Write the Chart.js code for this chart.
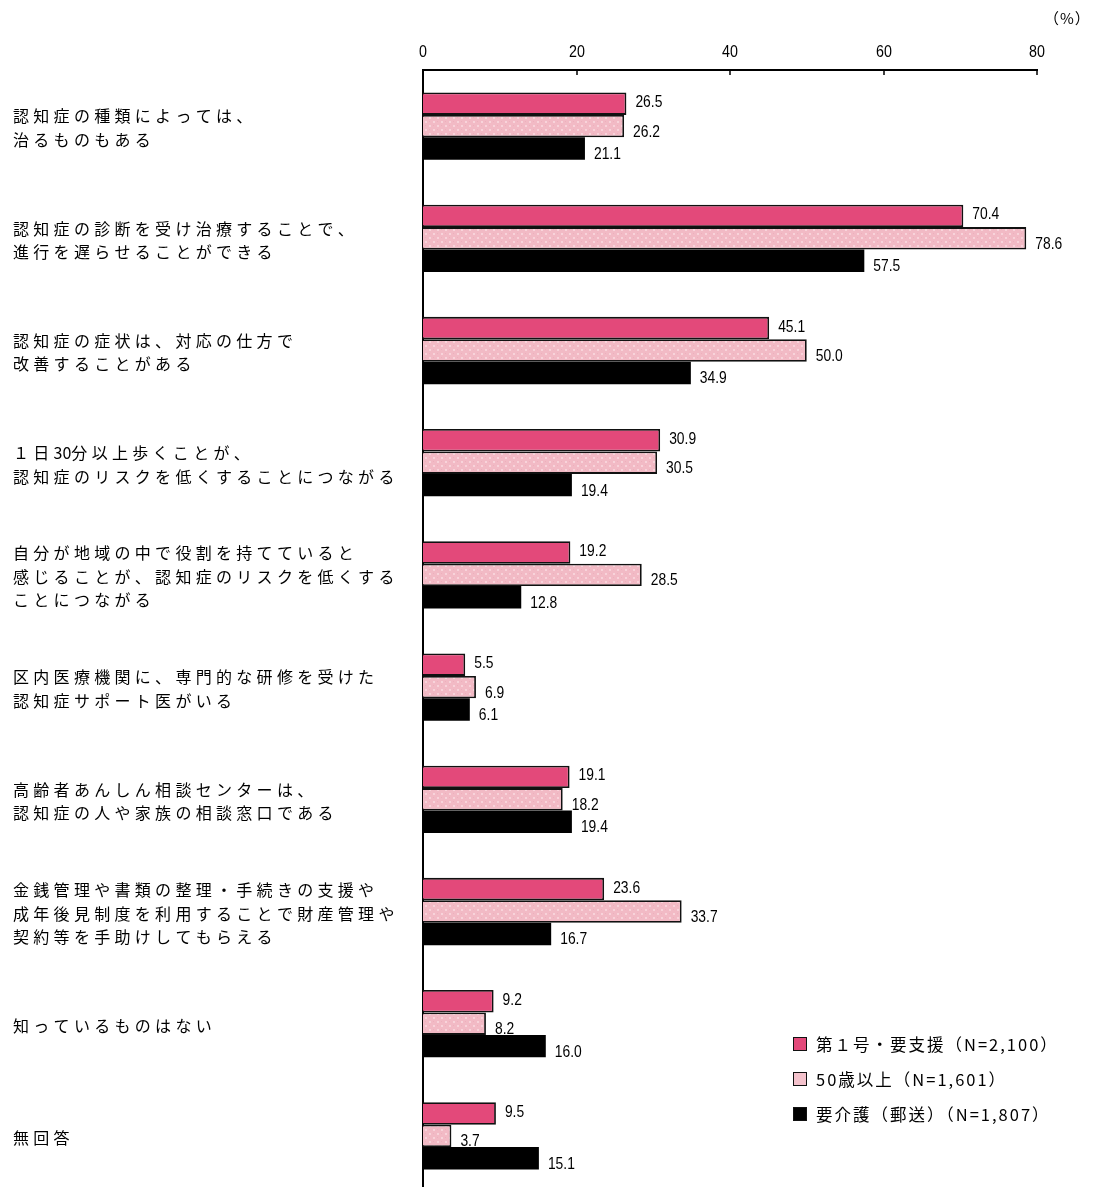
<!DOCTYPE html>
<html lang="ja">
<head>
<meta charset="utf-8">
<script src="https://cdn.jsdelivr.net/npm/chart.js@4/dist/chart.umd.min.js"></script>
<style>
  html, body { margin: 0; padding: 0; background: #fff; overflow: hidden; }
  .wrap { position: relative; width: 1093px; height: 1194px; }
  canvas { display: block; }
  .unit { position: absolute; left: 1044px; top: 7px; font: 15px "Noto Sans CJK JP", sans-serif; color: #000; letter-spacing: 1px; }
  .legend { position: absolute; left: 793px; top: 1026px; font: 16.5px "Noto Sans CJK JP", sans-serif; color: #000; letter-spacing: 2px; }
  .legend div { height: 35px; display: flex; align-items: center; }
  .legend span.box { width: 14px; height: 14px; border: 1.5px solid #111; margin-right: 9px; box-sizing: border-box; }
</style>
</head>
<body>
<div class="wrap">
  <canvas id="chart" width="1093" height="1194"></canvas>
  <div class="unit">（%）</div>
  <div class="legend" id="legend"></div>
</div>
<script>
const categories = [
  ["認知症の種類によっては、", "治るものもある"],
  ["認知症の診断を受け治療することで、", "進行を遅らせることができる"],
  ["認知症の症状は、対応の仕方で", "改善することがある"],
  ["１日30分以上歩くことが、", "認知症のリスクを低くすることにつながる"],
  ["自分が地域の中で役割を持てていると", "感じることが、認知症のリスクを低くする", "ことにつながる"],
  ["区内医療機関に、専門的な研修を受けた", "認知症サポート医がいる"],
  ["高齢者あんしん相談センターは、", "認知症の人や家族の相談窓口である"],
  ["金銭管理や書類の整理・手続きの支援や", "成年後見制度を利用することで財産管理や", "契約等を手助けしてもらえる"],
  ["知っているものはない"],
  ["無回答"]
];

const seriesNames = [
  "第１号・要支援（N=2,100）",
  "50歳以上（N=1,601）",
  "要介護（郵送）（N=1,807）"
];

const support = [26.5, 70.4, 45.1, 30.9, 19.2, 5.5, 19.1, 23.6, 9.2, 9.5];
const over50 = [26.2, 78.6, 50.0, 30.5, 28.5, 6.9, 18.2, 33.7, 8.2, 3.7];
const care = [21.1, 57.5, 34.9, 19.4, 12.8, 6.1, 19.4, 16.7, 16.0, 15.1];

const xTicks = [0, 20, 40, 60, 80];

const pink = "#E3497A";
const black = "#000000";
const numFont = '"Liberation Sans", Arial, sans-serif';
const jpFont = '"Noto Sans CJK JP", sans-serif';

function makePattern() {
  const c = document.createElement("canvas");
  c.width = 8;
  c.height = 8;
  const g = c.getContext("2d");
  g.fillStyle = "#F2BAC5";
  g.fillRect(0, 0, 8, 8);
  g.fillStyle = "#F8D3DA";
  g.fillRect(1, 1, 2, 2);
  g.fillRect(5, 5, 2, 2);
  g.fillStyle = "#EDB0BC";
  g.fillRect(5, 1, 1, 1);
  g.fillRect(1, 5, 1, 1);
  return g.createPattern(c, "repeat");
}

const lightPink = makePattern();

// narrow numbers, like the original's condensed sans
function narrowText(ctx, text, x, y, align) {
  ctx.save();
  ctx.translate(x, y);
  ctx.scale(0.84, 1);
  ctx.textAlign = align;
  ctx.fillText(text, 0, 0);
  ctx.restore();
}

// CJK glyphs get wide tracking, ascii stays tight
function spacedText(ctx, text, x, y) {
  let cx = x;
  for (const ch of text) {
    ctx.fillText(ch, cx, y);
    const w = ctx.measureText(ch).width;
    cx += ch.charCodeAt(0) < 128 ? w : w + 4.3;
  }
}

const labelPlugin = {
  id: "labels",
  afterDraw(chart) {
    const ctx = chart.ctx;
    const y = chart.scales.y;
    const x = chart.scales.x;
    const top = chart.chartArea.top;
    ctx.save();

    // tick marks (pointing down) and tick labels of the top axis
    ctx.strokeStyle = "#000";
    ctx.fillStyle = "#000";
    ctx.lineWidth = 1.5;
    ctx.font = "17px " + numFont;
    ctx.textBaseline = "middle";
    xTicks.forEach((v) => {
      const px = Math.round(x.getPixelForValue(v));
      if (v !== 0) {
        ctx.beginPath();
        ctx.moveTo(px, top);
        ctx.lineTo(px, top + 5);
        ctx.stroke();
      }
      narrowText(ctx, String(v), px, top - 18, "center");
    });

    // category labels
    ctx.font = "16px " + jpFont;
    ctx.textAlign = "left";
    const lh = 23.5;
    categories.forEach((lines, i) => {
      const cy = y.getPixelForValue(i) + 2;
      lines.forEach((t, k) => {
        spacedText(ctx, t, 13, cy + (k - (lines.length - 1) / 2) * lh);
      });
    });

    // value labels
    ctx.font = "16.5px " + numFont;
    const offsets = [-1, 6, 6];
    chart.data.datasets.forEach((ds, d) => {
      const meta = chart.getDatasetMeta(d);
      meta.data.forEach((el, i) => {
        narrowText(ctx, ds.data[i].toFixed(1), el.x + 9, el.y + offsets[d], "left");
      });
    });
    ctx.restore();
  }
};

new Chart(document.getElementById("chart"), {
  type: "bar",
  plugins: [labelPlugin],
  data: {
    labels: categories.map((c) => c.join("")),
    datasets: [
      { label: seriesNames[0], data: support, backgroundColor: pink, borderColor: "#111", borderWidth: 1.8 },
      { label: seriesNames[1], data: over50, backgroundColor: lightPink, borderColor: "#111", borderWidth: 1.8 },
      { label: seriesNames[2], data: care, backgroundColor: black, borderWidth: 0 }
    ]
  },
  options: {
    indexAxis: "y",
    responsive: false,
    animation: false,
    events: [],
    layout: { padding: { left: 423, right: 56, top: 0, bottom: 2 } },
    datasets: { bar: { categoryPercentage: 0.6, barPercentage: 1.0, borderSkipped: "start" } },
    plugins: { legend: { display: false }, tooltip: { enabled: false } },
    scales: {
      x: {
        position: "top",
        min: 0,
        max: 80,
        afterBuildTicks(scale) { scale.ticks = xTicks.map((v) => ({ value: v })); },
        afterFit(scale) { scale.height = 70; },
        grid: { display: false, drawTicks: false },
        border: { display: true, color: "#000", width: 2 },
        ticks: { display: false }
      },
      y: {
        afterFit(scale) { scale.width = 0; },
        grid: { display: false, drawTicks: false },
        border: { display: true, color: "#000", width: 2 },
        ticks: { display: false }
      }
    }
  }
});

const legend = document.getElementById("legend");
const swatches = [pink, "#F4C2CC", black];
seriesNames.forEach((name, i) => {
  const row = document.createElement("div");
  const box = document.createElement("span");
  box.className = "box";
  box.style.background = swatches[i];
  row.appendChild(box);
  row.appendChild(document.createTextNode(name));
  legend.appendChild(row);
});
</script>
</body>
</html>
